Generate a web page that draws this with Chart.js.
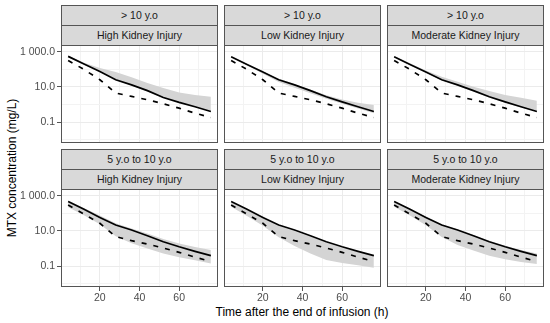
<!DOCTYPE html>
<html>
<head>
<meta charset="utf-8">
<script src="https://cdn.jsdelivr.net/npm/chart.js@4.4.1/dist/chart.umd.min.js"></script>
<style>
  body { margin: 0; width: 550px; height: 323px; background: #fff; position: relative; overflow: hidden;
         font-family: "Liberation Sans", Arial, sans-serif; }
  .strip { position: absolute; box-sizing: border-box; background: #D9D9D9; border: 1px solid #555;
           color: #1A1A1A; font-size: 10.5px; text-align: center; line-height: 19px; white-space: nowrap; }
  canvas { position: absolute; }
  .title { position: absolute; color: #000; font-size: 12px; white-space: nowrap; }
</style>
</head>
<body>
<div class="title" id="xtitle" style="left:302px; top:312px; transform:translate(-50%,-50%);">Time after the end of infusion (h)</div>
<div class="title" id="ytitle" style="left:12px; top:168px; transform:translate(-50%,-50%) rotate(-90deg);">MTX concentration (mg/L)</div>
<script>
// facets
const ageGroups = ['> 10 y.o', '5 y.o to 10 y.o'];
const injuryGroups = ['High Kidney Injury', 'Low Kidney Injury', 'Moderate Kidney Injury'];

// time after end of infusion (h)
const times = [4, 12, 20, 28, 36, 44, 52, 60, 68, 76];

// > 10 y.o  (mg/L)
const solidOldHigh = [562, 204, 76, 26, 13.2, 6.2, 2.5, 1.32, 0.74, 0.40];
const solidOldLow  = [537, 195, 71, 26, 13.2, 6.2, 2.75, 1.41, 0.74, 0.40];
const solidOldMod  = [537, 195, 71, 26, 13.2, 6.2, 2.75, 1.41, 0.74, 0.40];
const dashedOldHigh = [331, 100, 26, 4.5, 2.9, 1.86, 1.10, 0.62, 0.32, 0.18];
const dashedOldLow  = [331, 100, 26, 4.5, 2.9, 1.86, 1.10, 0.62, 0.32, 0.18];
const dashedOldMod  = [331, 100, 26, 4.5, 2.9, 1.86, 1.10, 0.62, 0.32, 0.18];
const bandOldHighUp = [603, 240, 120, 71, 36, 17, 8.7, 4.9, 3.5, 2.75];
const bandOldHighLo = [501, 190, 71, 25, 12, 5.6, 2.4, 1.26, 0.71, 0.42];
const bandOldLowUp  = [575, 214, 79, 29.5, 14.8, 7.1, 3.4, 1.9, 1.26, 0.95];
const bandOldLowLo  = [501, 174, 58, 19, 9.1, 4.4, 2.1, 1.10, 0.60, 0.32];
const bandOldModUp  = [589, 229, 89, 38, 20, 10.5, 6.0, 3.5, 2.4, 1.66];
const bandOldModLo  = [501, 182, 66, 24, 11.7, 5.6, 2.5, 1.26, 0.68, 0.38];

// 5 y.o to 10 y.o  (mg/L)
const solidYoungHigh = [479, 174, 60, 21.9, 11.5, 5.4, 2.45, 1.26, 0.69, 0.39];
const solidYoungLow  = [479, 174, 60, 21.9, 11.5, 5.4, 2.45, 1.26, 0.69, 0.39];
const solidYoungMod  = [479, 174, 60, 21.9, 11.5, 5.4, 2.45, 1.26, 0.69, 0.39];
const dashedYoungHigh = [309, 93, 27.5, 4.8, 2.8, 1.8, 1.07, 0.60, 0.32, 0.18];
const dashedYoungLow  = [309, 93, 27.5, 4.8, 2.8, 1.8, 1.07, 0.60, 0.32, 0.18];
const dashedYoungMod  = [309, 93, 27.5, 4.8, 2.8, 1.8, 1.07, 0.60, 0.32, 0.18];
const bandYoungHighUp = [562, 209, 76, 28, 14.1, 7.1, 3.5, 1.9, 1.2, 0.83];
const bandYoungHighLo = [224, 79, 24, 5.0, 2.0, 1.0, 0.52, 0.32, 0.21, 0.14];
const bandYoungLowUp  = [457, 158, 55, 20, 10, 4.8, 2.2, 1.1, 0.63, 0.38];
const bandYoungLowLo  = [245, 72, 20, 4.4, 1.4, 0.52, 0.22, 0.15, 0.11, 0.08];
const bandYoungModUp  = [525, 190, 66, 24, 12.3, 5.9, 2.75, 1.45, 0.83, 0.52];
const bandYoungModLo  = [245, 76, 21, 4.6, 1.6, 0.76, 0.38, 0.24, 0.17, 0.13];

// axis ticks
const xTickValues = [20, 40, 60];
const xGridValues = [10, 20, 30, 40, 50, 60, 70];
const yTickValues = [0.1, 10, 1000];
const yTickLabels = ['0.1', '10.0', '1 000.0'];
const yGridValues = [0.01, 0.1, 1, 10, 100, 1000];

const panels = [
  { row: 0, col: 0, solid: solidOldHigh, dashed: dashedOldHigh, up: bandOldHighUp, lo: bandOldHighLo },
  { row: 0, col: 1, solid: solidOldLow, dashed: dashedOldLow, up: bandOldLowUp, lo: bandOldLowLo },
  { row: 0, col: 2, solid: solidOldMod, dashed: dashedOldMod, up: bandOldModUp, lo: bandOldModLo },
  { row: 1, col: 0, solid: solidYoungHigh, dashed: dashedYoungHigh, up: bandYoungHighUp, lo: bandYoungHighLo },
  { row: 1, col: 1, solid: solidYoungLow, dashed: dashedYoungLow, up: bandYoungLowUp, lo: bandYoungLowLo },
  { row: 1, col: 2, solid: solidYoungMod, dashed: dashedYoungMod, up: bandYoungModUp, lo: bandYoungModLo }
];

// layout (px)
const ROW_TOP = [5, 149];
const COL_LEFT = [61, 224, 387];
const PLOT_W = 157, PLOT_H = 98, STRIP_H = 20;
const Y_AXIS_W = 41, X_AXIS_H = 24;

const tickFont = { family: '"Liberation Sans", Arial, sans-serif', size: 10.5 };
const pts = arr => arr.map((v, i) => ({ x: times[i], y: v }));

const panelBorder = {
  id: 'panelBorder',
  afterDraw(chart) {
    const a = chart.chartArea, c = chart.ctx;
    c.save();
    c.strokeStyle = '#555';
    c.lineWidth = 1;
    c.strokeRect(a.left + 0.5, a.top + 0.5, a.right - a.left - 1, a.bottom - a.top - 1);
    c.restore();
  }
};

panels.forEach(p => {
  const left = COL_LEFT[p.col];
  const plotTop = ROW_TOP[p.row] + 2 * STRIP_H;

  [ageGroups[p.row], injuryGroups[p.col]].forEach((txt, k) => {
    const d = document.createElement('div');
    d.className = 'strip';
    d.style.left = left + 'px';
    d.style.top = (ROW_TOP[p.row] + k * STRIP_H) + 'px';
    d.style.width = PLOT_W + 'px';
    d.style.height = (STRIP_H + 1) + 'px';
    d.textContent = txt;
    document.body.appendChild(d);
  });

  const showY = p.col === 0, showX = p.row === 1;
  const yw = showY ? Y_AXIS_W : 0, xh = showX ? X_AXIS_H : 0;
  const cv = document.createElement('canvas');
  cv.width = yw + PLOT_W;
  cv.height = PLOT_H + xh;
  cv.style.left = (left - yw) + 'px';
  cv.style.top = plotTop + 'px';
  document.body.appendChild(cv);

  new Chart(cv, {
    type: 'line',
    data: {
      datasets: [
        { data: pts(p.solid), borderColor: '#000', borderWidth: 1.7, order: 0 },
        { data: pts(p.dashed), borderColor: '#000', borderWidth: 1.7, borderDash: [5, 7], order: 1 },
        { data: pts(p.up), borderWidth: 0, borderColor: 'rgba(0,0,0,0)', backgroundColor: '#D4D4D4', fill: '+1', order: 2 },
        { data: pts(p.lo), borderWidth: 0, borderColor: 'rgba(0,0,0,0)', fill: false, order: 3 }
      ]
    },
    options: {
      responsive: false,
      animation: false,
      devicePixelRatio: 1,
      layout: { padding: 0 },
      elements: { point: { radius: 0 }, line: { tension: 0 } },
      plugins: { legend: { display: false }, tooltip: { enabled: false } },
      scales: {
        x: {
          type: 'linear', min: 0.4, max: 79.6,
          afterBuildTicks: s => { s.ticks = xGridValues.map(v => ({ value: v })); },
          afterFit: s => { s.height = xh; s.paddingLeft = 0; s.paddingRight = 0; },
          ticks: {
            display: showX, autoSkip: false, maxRotation: 0, padding: 1,
            color: '#4D4D4D', font: tickFont,
            callback: v => xTickValues.includes(v) ? String(v) : ''
          },
          grid: {
            color: ctx => xTickValues.includes(ctx.tick.value) ? '#EBEBEB' : '#F3F3F3',
            lineWidth: 1,
            drawTicks: showX, tickLength: 4,
            tickColor: ctx => xTickValues.includes(ctx.tick.value) ? '#555' : 'rgba(0,0,0,0)'
          },
          border: { display: false }
        },
        y: {
          type: 'logarithmic', min: Math.pow(10, -2.2), max: Math.pow(10, 3.4),
          afterBuildTicks: s => { s.ticks = yGridValues.map(v => ({ value: v })); },
          afterFit: s => { s.width = yw; s.paddingTop = 0; s.paddingBottom = 0; },
          ticks: {
            display: showY, autoSkip: false, padding: 2,
            color: '#4D4D4D', font: tickFont,
            callback: v => { const i = yTickValues.indexOf(v); return i >= 0 ? yTickLabels[i] : ''; }
          },
          grid: {
            color: ctx => yTickValues.includes(ctx.tick.value) ? '#EBEBEB' : '#F3F3F3',
            lineWidth: 1,
            drawTicks: showY, tickLength: 4,
            tickColor: ctx => yTickValues.includes(ctx.tick.value) ? '#555' : 'rgba(0,0,0,0)'
          },
          border: { display: false }
        }
      }
    },
    plugins: [panelBorder]
  });
});
</script>
</body>
</html>
